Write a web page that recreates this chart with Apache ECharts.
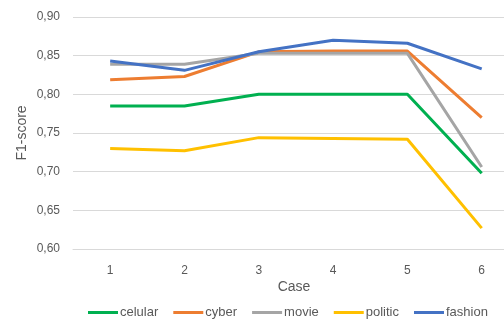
<!DOCTYPE html>
<html>
<head>
<meta charset="utf-8">
<script src="https://cdn.jsdelivr.net/npm/echarts@6/dist/echarts.min.js"></script>
<style>
  html, body { margin: 0; padding: 0; background: #fff; }
  #chart { width: 504px; height: 320px; }
</style>
</head>
<body>
<div id="chart"></div>
<script>
// F1-score per case for each dataset
var cases = [1, 2, 3, 4, 5, 6];
var celular = [0.785, 0.785, 0.800, 0.800, 0.800, 0.698];
var cyber   = [0.819, 0.823, 0.855, 0.856, 0.856, 0.770];
var movie   = [0.839, 0.839, 0.853, 0.853, 0.853, 0.706];
var politic = [0.730, 0.727, 0.744, 0.743, 0.742, 0.627];
var fashion = [0.843, 0.831, 0.855, 0.870, 0.866, 0.833];
var yTicks = { min: 0.60, max: 0.90, step: 0.05 };
// x runs half a case either side of the cases; the last half is cut by the edge
var xRange = { min: 0.5, max: 6.3, step: 0.5 };

var font = 'Liberation Sans, Arial, sans-serif';
var textColor = '#595959';

function line(name, values, color) {
  return {
    name: name,
    type: 'line',
    data: cases.map(function (c, i) { return [c, values[i]]; }),
    symbol: 'none',
    lineStyle: { width: 3, color: color },
    itemStyle: { color: color }
  };
}

var chart = echarts.init(document.getElementById('chart'));
chart.setOption({
  animation: false,
  textStyle: { fontFamily: font },
  grid: { left: 73, top: 17, right: 0, bottom: 71 },
  // axis titles
  graphic: [
    {
      type: 'text', x: 294, y: 287,
      style: { text: 'Case', fill: textColor, font: '14px ' + font, align: 'center', verticalAlign: 'middle' }
    },
    {
      type: 'text', x: 22, y: 133, rotation: Math.PI / 2,
      style: { text: 'F1-score', fill: textColor, font: '14px ' + font, align: 'center', verticalAlign: 'middle' }
    }
  ],
  xAxis: {
    type: 'value',
    min: xRange.min,
    max: xRange.max,
    interval: xRange.step,
    axisLine: { show: true, lineStyle: { color: '#D9D9D9', width: 1 } },
    axisTick: { show: false },
    splitLine: { show: false },
    axisLabel: {
      color: textColor, fontSize: 12, margin: 16, fontFamily: font,
      showMinLabel: false, showMaxLabel: false,
      formatter: function (v) { return Math.abs(v - Math.round(v)) < 1e-6 ? String(Math.round(v)) : ''; }
    }
  },
  yAxis: {
    type: 'value',
    min: yTicks.min,
    max: yTicks.max,
    interval: yTicks.step,
    axisLine: { show: false },
    axisTick: { show: false },
    axisLabel: {
      color: textColor, fontSize: 12, margin: 13, fontFamily: font,
      formatter: function (v) { return v.toFixed(2).replace('.', ','); }
    },
    splitLine: { lineStyle: { color: '#D9D9D9', width: 1 } }
  },
  legend: {
    top: 306,
    left: 88,
    icon: 'rect',
    itemWidth: 30,
    itemHeight: 3,
    itemGap: 15,
    padding: 0,
    textStyle: { color: textColor, fontSize: 13, fontFamily: font, padding: [0, 0, 0, -3] },
    data: ['celular', 'cyber', 'movie', 'politic', 'fashion']
  },
  series: [
    line('celular', celular, '#00B050'),
    line('cyber', cyber, '#ED7D31'),
    line('movie', movie, '#A5A5A5'),
    line('politic', politic, '#FFC000'),
    line('fashion', fashion, '#4472C4')
  ]
});
</script>
</body>
</html>
